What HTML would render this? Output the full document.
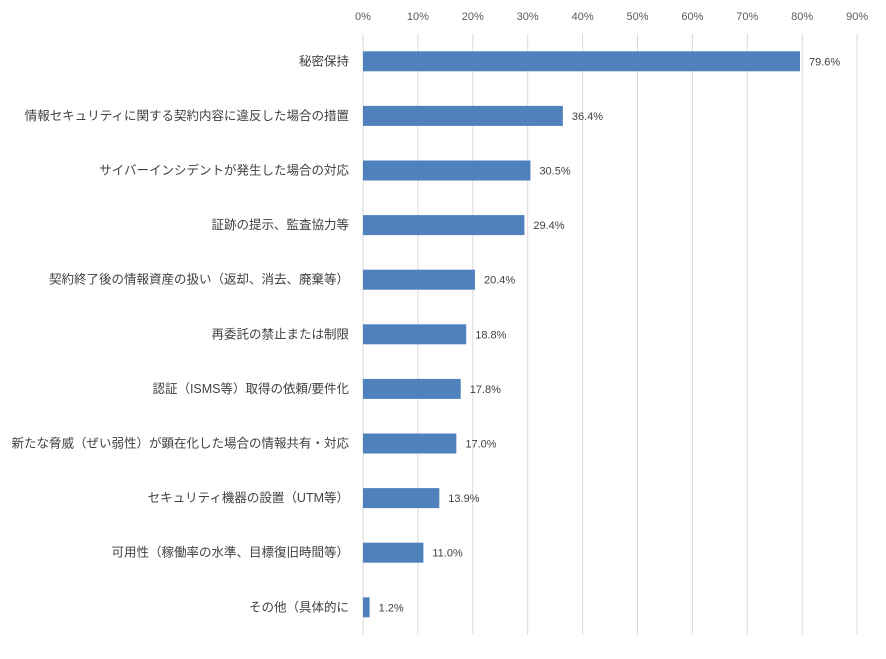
<!DOCTYPE html>
<html><head><meta charset="utf-8">
<style>
body{margin:0;background:#fff;width:886px;height:654px;overflow:hidden;font-family:"Liberation Sans","Noto Sans CJK JP",sans-serif;}
svg text{font-family:"Liberation Sans","Noto Sans CJK JP",sans-serif;}
</style></head>
<body>
<svg id="chart" width="886" height="654" xmlns="http://www.w3.org/2000/svg"></svg>
<script>
const categories=["秘密保持","情報セキュリティに関する契約内容に違反した場合の措置","サイバーインシデントが発生した場合の対応","証跡の提示、監査協力等","契約終了後の情報資産の扱い（返却、消去、廃棄等）","再委託の禁止または制限","認証（ISMS等）取得の依頼/要件化","新たな脅威（ぜい弱性）が顕在化した場合の情報共有・対応","セキュリティ機器の設置（UTM等）","可用性（稼働率の水準、目標復旧時間等）","その他（具体的に"];
const values=[79.6,36.4,30.5,29.4,20.4,18.8,17.8,17.0,13.9,11.0,1.2];
const ticks=[0,10,20,30,40,50,60,70,80,90];
const svgEl=document.getElementById('chart');
const NS='http://www.w3.org/2000/svg';
const x0=363,pxPer=54.9,plotTop=34,rowH=54.6,barH=20;
function xs(v){return x0+v*pxPer/10;}
function yc(i){return plotTop+rowH*i+rowH/2;}
function mk(t,a){const e=document.createElementNS(NS,t);for(const k in a)e.setAttribute(k,a[k]);svgEl.appendChild(e);return e;}
ticks.forEach(t=>{
 const l=mk('line',{x1:xs(t),x2:xs(t),y1:plotTop,y2:plotTop+rowH*categories.length,stroke:'#d9d9d9','stroke-width':1});
 
 
 const tx=mk('text',{x:xs(t),y:20,'text-anchor':'middle','font-size':11,fill:'#595959'});
 tx.textContent=t+'%';
 
 
});
categories.forEach((c,i)=>{
 const y=yc(i);
 const lb=mk('text',{x:349,y:y+4,'text-anchor':'end','font-size':12.5,fill:'#404040'});
 lb.textContent=c;
 
 
 const b=mk('rect',{x:x0,y:y-barH/2,width:xs(values[i])-x0,height:barH,fill:'#4f81bd'});
 
 
 const v=mk('text',{x:xs(values[i])+9,y:y+4,'font-size':11,fill:'#404040'});
 v.textContent=values[i].toFixed(1)+'%';
 
 
});
</script>
</body></html>
